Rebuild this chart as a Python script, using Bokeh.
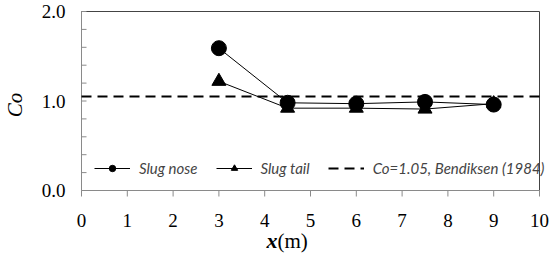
import math
from bokeh.plotting import figure
from bokeh.models import Legend, LegendItem, Range1d
from bokeh.core.properties import value
from bokeh.embed import file_html
from bokeh.resources import INLINE

# ---- data ----
x_pos = [3, 4.5, 6, 7.5, 9]
slug_nose = [1.59, 0.98, 0.97, 0.99, 0.96]
slug_tail = [1.22, 0.92, 0.92, 0.91, 0.97]
bendiksen_co = 1.05
x_limits = [0, 10]
y_limits = [0, 2]
x_ticks = [0, 1, 2, 3, 4, 5, 6, 7, 8, 9, 10]
x_tick_labels = ["0", "1", "2", "3", "4", "5", "6", "7", "8", "9", "10"]
y_ticks = [0, 1, 2]
y_tick_labels = ["0.0", "1.0", "2.0"]
y_minor = [0.2, 0.4, 0.6, 0.8, 1.2, 1.4, 1.6, 1.8]
y_title = "Co"
x_title_var = "x"
x_title_unit = "(m)"
legend_labels = ["Slug nose", "Slug tail", "Co=1.05, Bendiksen (1984)"]

# ---- layout (pixels) ----
W, H = 552, 254
box_left, box_right = 81, 539
box_top, box_bottom = 11, 190
x0, x1 = x_limits
y0, y1 = y_limits
xs = (box_right - box_left) / (x1 - x0)
ys = (box_bottom - box_top) / (y1 - y0)

p = figure(width=W, height=H, output_backend="svg", toolbar_location=None,
           x_axis_type=None, y_axis_type=None,
           x_range=Range1d(x0 - box_left / xs, x1 + (W - box_right) / xs),
           y_range=Range1d(y0 - (H - box_bottom) / ys, y1 + box_top / ys))
p.min_border = 0
p.outline_line_color = None
p.background_fill_color = "white"
p.border_fill_color = "white"

SERIF = "Liberation Serif"
axis_grey = "#8a8a8a"

# text first (plain placement in data units, no pixel offsets)
xlab_y = y0 - 30 / ys
p.text(x=x_ticks, y=[xlab_y] * len(x_ticks), text=x_tick_labels,
       text_font=value(SERIF), text_font_size="19px", text_align="center",
       text_baseline="middle")
ylab_x = x0 - 16 / xs
p.text(x=[ylab_x] * len(y_ticks), y=y_ticks, text=y_tick_labels,
       text_font=value(SERIF), text_font_size="19px", text_align="right",
       text_baseline="middle")
p.text(x=[x0 - 67 / xs], y=[(y0 + y1) / 2 - 4 / ys], text=[y_title],
       text_font=value(SERIF), text_font_style="italic", text_font_size="21px",
       angle=math.pi / 2, text_align="center", text_baseline="middle")
x_title_at = [4.28]
xt_y = [y0 - 50 / ys]
p.text(x=x_title_at, y=xt_y, text=[x_title_var], text_font=value(SERIF),
       text_font_style="bold italic", text_font_size="22px",
       text_align="right", text_baseline="middle")
p.text(x=x_title_at, y=xt_y, text=[x_title_unit], text_font=value(SERIF),
       text_font_size="21px", text_align="left", text_baseline="middle")

# plot box
p.segment(x0=[x0, x0], y0=[y0, y0], x1=[x1, x0], y1=[y0, y1],
          line_color=axis_grey, line_width=1)
p.segment(x0=[x0, x1], y0=[y1, y0], x1=[x1, x1], y1=[y1, y1],
          line_color="#444444", line_width=1)

# y ticks (inside)
all_y = y_ticks + y_minor
p.segment(x0=[x0] * len(all_y), y0=all_y, x1=[x0 + 5 / xs] * len(all_y), y1=all_y,
          line_color=axis_grey, line_width=1)
# x ticks (outside)
p.segment(x0=x_ticks, y0=[y0] * len(x_ticks), x1=x_ticks,
          y1=[y0 - 6 / ys] * len(x_ticks), line_color=axis_grey, line_width=1)

# data
dash = p.line(x_limits, [bendiksen_co, bendiksen_co], line_color="black",
              line_width=2, line_dash="10 6")
nl = p.line(x_pos, slug_nose, line_color="black", line_width=1)
tl = p.line(x_pos, slug_tail, line_color="black", line_width=1)
ts = p.scatter(x_pos, slug_tail, marker="triangle", size=14, fill_color="black",
               line_color="black")
ns = p.scatter(x_pos, slug_nose, marker="circle", size=15, fill_color="black",
               line_color="black")

legend = Legend(items=[
    LegendItem(label=legend_labels[0], renderers=[nl, ns]),
    LegendItem(label=legend_labels[1], renderers=[tl, ts]),
    LegendItem(label=legend_labels[2], renderers=[dash]),
], orientation="horizontal", location=(box_left + 13, H - box_bottom + 13))
legend.border_line_color = None
legend.background_fill_alpha = 0
legend.padding = 0
legend.margin = 0
legend.spacing = 18
legend.glyph_width = 36
legend.glyph_height = 16
legend.label_standoff = 9
legend.label_text_font = "Lato"
legend.label_text_font_style = "italic"
legend.label_text_font_size = "15px"
legend.label_text_baseline = "middle"
p.add_layout(legend, "center")

open("out.html", "w").write(file_html(p, INLINE))
